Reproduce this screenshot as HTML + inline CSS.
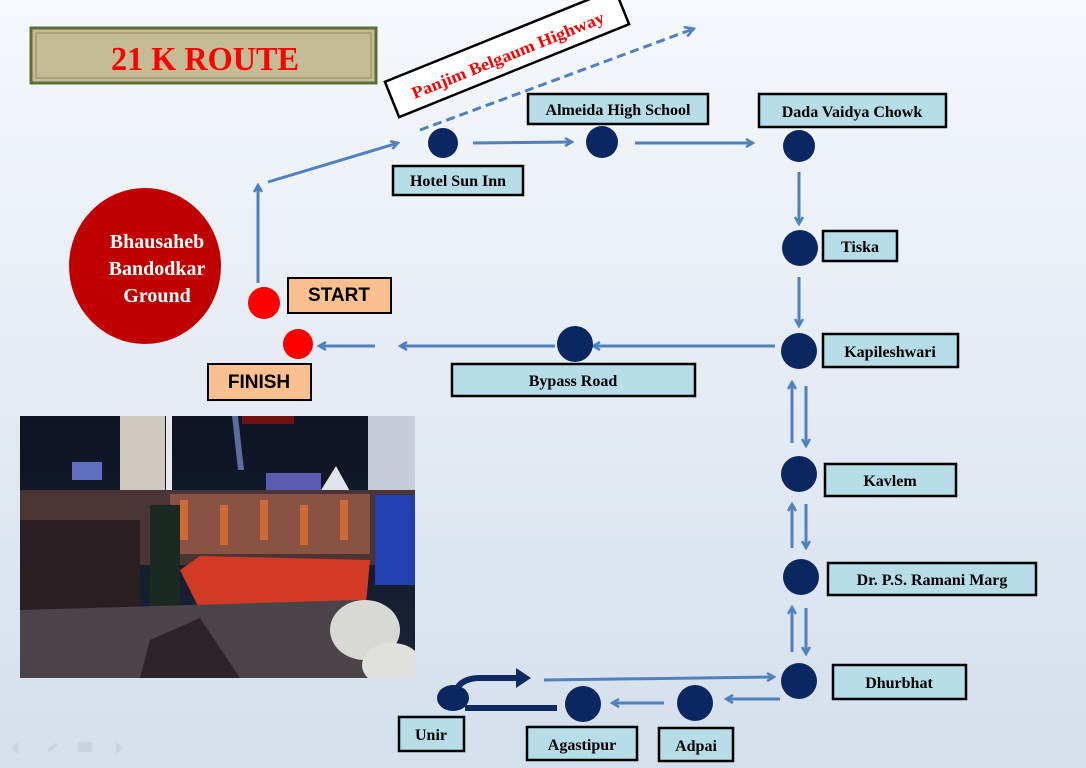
<!DOCTYPE html>
<html><head><meta charset="utf-8"><style>
html,body{margin:0;padding:0;width:1086px;height:768px;overflow:hidden;background:linear-gradient(#f5f8fc,#d5dfec);}
svg{display:block}
text{font-family:"Liberation Serif",serif;font-weight:bold}
</style></head><body>
<svg width="1086" height="768" viewBox="0 0 1086 768" xmlns="http://www.w3.org/2000/svg">
<defs>
<marker id="a" markerWidth="10" markerHeight="10" refX="8" refY="5" orient="auto" markerUnits="userSpaceOnUse"><path d="M1,1 L8,5 L1,9" fill="none" stroke="#4f81bd" stroke-width="2.5"/></marker>
<marker id="b" markerWidth="12" markerHeight="12" refX="9" refY="6" orient="auto" markerUnits="userSpaceOnUse"><path d="M1,1 L10,6 L1,11" fill="none" stroke="#4f81bd" stroke-width="2.5"/></marker>
<linearGradient id="sky" x1="0" y1="0" x2="0" y2="1"><stop offset="0" stop-color="#0d1322"/><stop offset="1" stop-color="#1b2438"/></linearGradient>
<clipPath id="ph"><rect x="20" y="416" width="395" height="262"/></clipPath>
</defs>
<!-- title -->
<rect x="31" y="28" width="345" height="55" fill="#c4bc94" stroke="#5c6f36" stroke-width="3"/>
<rect x="36" y="33" width="335" height="45" fill="none" stroke="#8c8a60" stroke-width="1"/>
<text x="111" y="70" font-size="34" fill="#ff0000" textLength="188" lengthAdjust="spacingAndGlyphs">21 K ROUTE</text>
<!-- highway -->
<g transform="translate(507,53) rotate(-22)">
<rect x="-124" y="-19" width="248" height="38" fill="#fff" stroke="#000" stroke-width="2.5"/>
<text x="-103" y="8" font-size="17" fill="#ff0000" textLength="206" lengthAdjust="spacingAndGlyphs">Panjim Belgaum Highway</text>
</g>
<line x1="420" y1="130" x2="693" y2="29" stroke="#4f81bd" stroke-width="3" stroke-dasharray="9,5" marker-end="url(#b)"/>
<!-- ground -->
<ellipse cx="145" cy="266" rx="76" ry="78" fill="#c00000"/>
<text x="157" y="248" font-size="20" fill="#fff" text-anchor="middle">Bhausaheb</text>
<text x="157" y="275" font-size="20" fill="#fff" text-anchor="middle">Bandodkar</text>
<text x="157" y="302" font-size="20" fill="#fff" text-anchor="middle">Ground</text>
<circle cx="264" cy="303" r="16" fill="#ff0000"/>
<circle cx="298" cy="344" r="15" fill="#ff0000"/>
<rect x="288" y="278" width="103" height="35" fill="#fac090" stroke="#000" stroke-width="2"/>
<text x="339" y="301" font-size="19" fill="#000" text-anchor="middle" style="font-family:'Liberation Sans',sans-serif">START</text>
<rect x="208" y="364" width="103" height="36" fill="#fac090" stroke="#000" stroke-width="2"/>
<text x="259" y="388" font-size="19" fill="#000" text-anchor="middle" style="font-family:'Liberation Sans',sans-serif">FINISH</text>
<!-- arrows -->
<g stroke="#4f81bd" stroke-width="3" fill="none" marker-end="url(#a)">
<line x1="258" y1="283" x2="258" y2="185"/>
<line x1="268" y1="182" x2="398" y2="143"/>
<line x1="473" y1="143" x2="572" y2="142"/>
<line x1="635" y1="143" x2="753" y2="143"/>
<line x1="799" y1="172" x2="799" y2="224"/>
<line x1="799" y1="277" x2="799" y2="326"/>
<line x1="775" y1="346" x2="593" y2="346"/>
<line x1="555" y1="346" x2="400" y2="346"/>
<line x1="375" y1="346" x2="319" y2="346"/>
<line x1="792" y1="443" x2="792" y2="382"/>
<line x1="806" y1="386" x2="806" y2="446"/>
<line x1="792" y1="548" x2="792" y2="504"/>
<line x1="806" y1="504" x2="806" y2="548"/>
<line x1="792" y1="652" x2="792" y2="607"/>
<line x1="806" y1="608" x2="806" y2="654"/>
<line x1="780" y1="699" x2="726" y2="699"/>
<line x1="664" y1="703" x2="612" y2="703"/>
<line x1="544" y1="680" x2="774" y2="677"/>
</g>
<!-- unir loop -->
<path d="M557,708 L465,708" stroke="#0d2a63" stroke-width="6" fill="none"/>
<path d="M456,690 Q462,678 480,678 L516,678" stroke="#0d2a63" stroke-width="6" fill="none"/>
<path d="M516,668 L531,678 L516,688 Z" fill="#0d2a63"/>
<!-- nodes -->
<g fill="#0b2761">
<circle cx="443" cy="143" r="15"/><circle cx="602" cy="142" r="16"/><circle cx="799" cy="146" r="16"/>
<circle cx="800" cy="248" r="18"/><circle cx="799" cy="351" r="18"/><circle cx="575" cy="344" r="18"/>
<circle cx="799" cy="474" r="18"/><circle cx="801" cy="577" r="18"/><circle cx="799" cy="681" r="18"/>
<circle cx="695" cy="703" r="18"/><circle cx="583" cy="704" r="18"/><ellipse cx="453" cy="698" rx="16" ry="13"/>
</g>
<!-- labels -->
<g stroke="#000" stroke-width="2.5" fill="#b7dde8">
<rect x="393" y="166" width="130" height="29"/><rect x="528" y="94" width="180" height="30"/>
<rect x="759" y="94" width="187" height="33"/><rect x="823" y="231" width="74" height="30"/>
<rect x="823" y="334" width="135" height="33"/><rect x="452" y="364" width="243" height="32"/>
<rect x="825" y="464" width="131" height="32"/><rect x="828" y="563" width="208" height="32"/>
<rect x="833" y="665" width="133" height="34"/><rect x="659" y="728" width="74" height="33"/>
<rect x="527" y="727" width="110" height="33"/><rect x="399" y="717" width="65" height="34"/>
</g>
<g font-size="16" fill="#000" text-anchor="middle">
<text x="458" y="186">Hotel Sun Inn</text><text x="618" y="115">Almeida High School</text>
<text x="852" y="117">Dada Vaidya Chowk</text><text x="860" y="252">Tiska</text>
<text x="890" y="357">Kapileshwari</text><text x="573" y="386">Bypass Road</text>
<text x="890" y="486">Kavlem</text><text x="932" y="585">Dr. P.S. Ramani Marg</text>
<text x="899" y="688">Dhurbhat</text><text x="696" y="751">Adpai</text>
<text x="582" y="750">Agastipur</text><text x="431" y="740">Unir</text>
</g>
<!-- photo -->
<g clip-path="url(#ph)">
<rect x="20" y="416" width="395" height="262" fill="url(#sky)"/>
<rect x="120" y="416" width="45" height="85" fill="#cfcac0"/>
<rect x="166" y="416" width="6" height="85" fill="#e8e8ee"/>
<rect x="72" y="462" width="30" height="18" fill="#6070c0"/>
<rect x="242" y="416" width="52" height="8" fill="#701010"/>
<polygon points="232,416 238,416 244,470 238,470" fill="#8090d0" opacity="0.7"/>
<rect x="266" y="473" width="55" height="22" fill="#5a5ab0"/>
<polygon points="318,495 336,466 352,495" fill="#e0e4ee"/>
<rect x="368" y="416" width="47" height="80" fill="#c8ccd8"/>
<rect x="20" y="490" width="395" height="75" fill="#4a3436"/>
<rect x="170" y="494" width="200" height="60" fill="#9a5a46" opacity="0.8"/>
<g fill="#e07030" opacity="0.8"><rect x="180" y="500" width="8" height="40"/><rect x="220" y="505" width="8" height="40"/><rect x="260" y="500" width="8" height="40"/><rect x="300" y="505" width="8" height="40"/><rect x="340" y="500" width="8" height="40"/></g>
<polygon points="180,570 200,556 370,560 365,615 200,610" fill="#d23a26"/>
<rect x="20" y="520" width="120" height="90" fill="#2a1e22"/>
<rect x="150" y="505" width="30" height="105" fill="#1a2a22"/>
<rect x="375" y="495" width="40" height="90" fill="#2040b0"/>
<polygon points="20,610 360,600 380,678 20,678" fill="#4a4448"/>
<polygon points="150,640 200,618 240,678 140,678" fill="#2a2428"/>
<ellipse cx="365" cy="630" rx="35" ry="30" fill="#d8d8d4"/>
<ellipse cx="392" cy="665" rx="30" ry="22" fill="#e0e0dc"/>
</g>
<!-- nav icons -->
<g fill="#c8d0dc" opacity="0.8"><path d="M10,748 l8,-6 v12z"/><rect x="46" y="746" width="12" height="3" transform="rotate(-40 52 747)"/><rect x="78" y="742" width="14" height="10"/><path d="M124,748 l-8,-6 v12z"/></g>
</svg>
</body></html>
